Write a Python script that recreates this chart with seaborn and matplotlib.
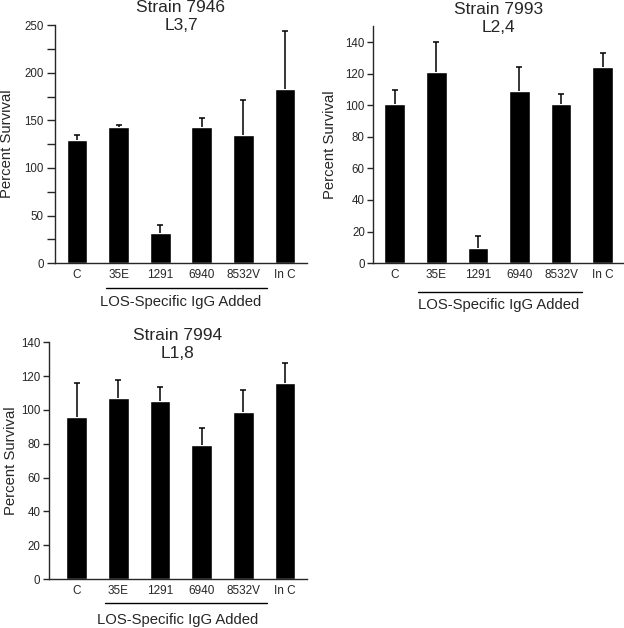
import numpy as np
import seaborn as sns
import matplotlib.pyplot as plt
from matplotlib.ticker import MultipleLocator

# Data
categories = ["C", "35E", "1291", "6940", "8532V", "In C"]

s7946_mean = [129, 142.5, 32, 142.5, 135, 182.5]
s7946_err = [5.5, 2.5, 8.5, 10, 36, 61]

s7993_mean = [101, 121, 9.5, 109, 101, 124]
s7993_err = [9, 19, 8, 15, 6, 9]

s7994_mean = [96, 107, 105, 79, 99, 116]
s7994_err = [20, 10.5, 8.5, 10.5, 13, 11.5]

group_label = "LOS-Specific IgG Added"

sns.set_style("ticks")
plt.rcParams['font.family'] = ['Liberation Sans', 'DejaVu Sans']


# Draw one panel: black bars with upper-only error bars
def panel(ax, means, errs, title, ymax, major, minor, xlim, ylab_x, tick_len,
          title_y, line_y, label_y, line_span):
    sns.barplot(x=categories, y=means, color='black', saturation=1,
                width=0.5, errorbar=None, ax=ax)
    eb = ax.errorbar(np.arange(len(categories)), means,
                     yerr=[np.zeros(len(errs)), errs], fmt='none',
                     ecolor='black', elinewidth=1.1, capsize=2.5, capthick=1.1)
    eb[1][0].set_visible(False)  # no cap at the bar top

    ax.set_xlim(*xlim)
    ax.set_ylim(0, ymax)
    ax.yaxis.set_major_locator(MultipleLocator(major))
    if minor:
        ax.yaxis.set_minor_locator(MultipleLocator(minor))
    ax.tick_params(axis='y', which='both', length=tick_len, width=1,
                   pad=2, labelsize=8.3, direction='out')
    ax.tick_params(axis='x', length=0, pad=4, labelsize=8.5)
    for s in ['top', 'right']:
        ax.spines[s].set_visible(False)
    for s in ['left', 'bottom']:
        ax.spines[s].set_linewidth(1)

    ax.set_ylabel("Percent Survival", fontsize=10.7)
    ax.yaxis.set_label_coords(ylab_x, 0.5)
    ax.set_xlabel("")

    ax.text(0.5, title_y, title, transform=ax.transAxes, ha='center',
            va='center', fontsize=12.5, linespacing=1.25)

    # bracket line under the antibody groups
    tr = ax.get_xaxis_transform()
    ax.plot(line_span, [line_y, line_y], color='black', lw=1,
            transform=tr, clip_on=False)
    ax.text(0.5, label_y, group_label, transform=ax.transAxes,
            ha='center', va='center', fontsize=10.7)


fig = plt.figure(figsize=(6.24, 6.28), dpi=100)

ax1 = fig.add_axes([0.088, 0.581, 0.404, 0.379])
ax2 = fig.add_axes([0.598, 0.581, 0.401, 0.377])
ax3 = fig.add_axes([0.078, 0.078, 0.414, 0.377])

panel(ax1, s7946_mean, s7946_err, "Strain 7946\nL3,7", 250, 50, 25,
      (-0.53, 5.53), -0.163, 6, 1.035, -0.105, -0.165, [0.69, 4.57])
panel(ax2, s7993_mean, s7993_err, "Strain 7993\nL2,4", 150, 20, None,
      (-0.52, 5.5), -0.144, 4, 1.035, -0.122, -0.175, [0.55, 4.5])
panel(ax3, s7994_mean, s7994_err, "Strain 7994\nL1,8", 140, 20, None,
      (-0.67, 5.53), -0.12, 4, 0.99, -0.10, -0.173, [0.69, 4.57])

plt.savefig("out.png", dpi=100)
